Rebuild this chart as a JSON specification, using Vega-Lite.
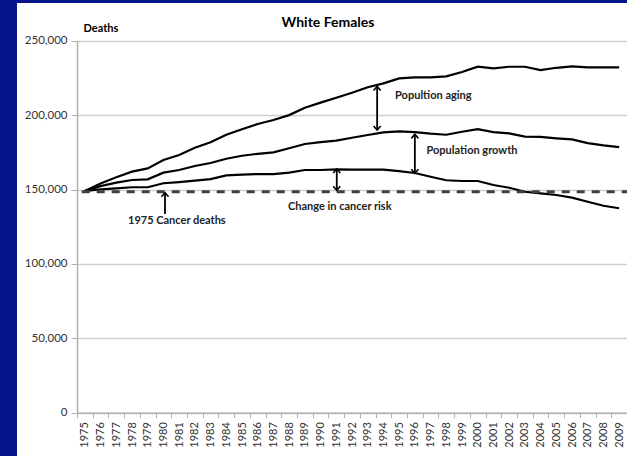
{
  "$schema": "https://vega.github.io/schema/vega-lite/v6.json",
  "autosize": "none",
  "width": 610,
  "height": 453,
  "padding": {"left": 17, "top": 3, "right": 0, "bottom": 0},
  "background": "#06168a",
  "config": {"view": {"fill": "white", "stroke": null}, "font": "Lato"},
  "title": {"text": "White Females", "font": "Lato", "fontSize": 14, "fontWeight": "bold", "color": "black", "anchor": "middle", "baseline": "alphabetic", "offset": -38, "dx": 6},
  "datasets": {
    "deaths": [
      {"year": 1975, "aging": 149000, "growth": 149000, "risk": 149000},
      {"year": 1976, "aging": 154000, "growth": 152300, "risk": 150100},
      {"year": 1977, "aging": 158200, "growth": 154600, "risk": 150800},
      {"year": 1978, "aging": 162000, "growth": 156400, "risk": 151500},
      {"year": 1979, "aging": 164200, "growth": 156800, "risk": 151500},
      {"year": 1980, "aging": 169800, "growth": 161300, "risk": 154200},
      {"year": 1981, "aging": 173200, "growth": 163100, "risk": 155000},
      {"year": 1982, "aging": 178000, "growth": 165800, "risk": 155900},
      {"year": 1983, "aging": 181700, "growth": 167800, "risk": 157000},
      {"year": 1984, "aging": 186800, "growth": 170700, "risk": 159500},
      {"year": 1985, "aging": 190500, "growth": 172700, "risk": 160000},
      {"year": 1986, "aging": 194000, "growth": 174000, "risk": 160400},
      {"year": 1987, "aging": 196700, "growth": 175000, "risk": 160400},
      {"year": 1988, "aging": 200000, "growth": 177700, "risk": 161300},
      {"year": 1989, "aging": 205000, "growth": 180600, "risk": 163100},
      {"year": 1990, "aging": 208400, "growth": 181800, "risk": 163100},
      {"year": 1991, "aging": 211700, "growth": 182800, "risk": 163500},
      {"year": 1992, "aging": 215000, "growth": 184800, "risk": 163300},
      {"year": 1993, "aging": 218700, "growth": 186600, "risk": 163300},
      {"year": 1994, "aging": 221300, "growth": 188400, "risk": 163300},
      {"year": 1995, "aging": 224700, "growth": 189100, "risk": 162400},
      {"year": 1996, "aging": 225400, "growth": 188600, "risk": 161100},
      {"year": 1997, "aging": 225400, "growth": 187500, "risk": 158600},
      {"year": 1998, "aging": 226000, "growth": 186800, "risk": 156200},
      {"year": 1999, "aging": 229000, "growth": 188800, "risk": 155700},
      {"year": 2000, "aging": 232500, "growth": 190600, "risk": 155700},
      {"year": 2001, "aging": 231400, "growth": 188600, "risk": 153000},
      {"year": 2002, "aging": 232500, "growth": 187700, "risk": 151200},
      {"year": 2003, "aging": 232500, "growth": 185500, "risk": 148500},
      {"year": 2004, "aging": 230300, "growth": 185300, "risk": 147400},
      {"year": 2005, "aging": 231800, "growth": 184400, "risk": 146300},
      {"year": 2006, "aging": 232800, "growth": 183700, "risk": 144500},
      {"year": 2007, "aging": 232100, "growth": 181200, "risk": 141800},
      {"year": 2008, "aging": 232100, "growth": 179700, "risk": 139100},
      {"year": 2009, "aging": 232100, "growth": 178500, "risk": 137400}
    ],
    "arrows": [
      {"x": 1993.6, "top": 219300, "bot": 190000, "double": true},
      {"x": 1996.0, "top": 187100, "bot": 160900, "double": true},
      {"x": 1991.03, "top": 163800, "bot": 149500, "double": true},
      {"x": 1980.1, "top": 147800, "bot": 133500, "double": false}
    ],
    "notes": [
      {"x": 1994.74, "y": 212800, "label": "Popultion aging"},
      {"x": 1996.74, "y": 176000, "label": "Population growth"},
      {"x": 1987.93, "y": 138400, "label": "Change in cancer risk"},
      {"x": 1977.75, "y": 128800, "label": "1975 Cancer deaths"}
    ]
  },
  "layer": [
    {
      "data": {"name": "deaths"},
      "transform": [{"fold": ["aging", "growth", "risk"], "as": ["series", "deaths"]}],
      "mark": {"type": "line", "color": "black", "strokeWidth": 2.2},
      "encoding": {
        "x": {"field": "year", "type": "quantitative",
          "scale": {"domain": [1974.5, 2009.5], "range": [60, 610], "nice": false, "zero": false},
          "axis": {"values": [1975,1976,1977,1978,1979,1980,1981,1982,1983,1984,1985,1986,1987,1988,1989,1990,1991,1992,1993,1994,1995,1996,1997,1998,1999,2000,2001,2002,2003,2004,2005,2006,2007,2008,2009], "format": "d", "labelAngle": -90, "labelFont": "Lato", "labelFontSize": 11, "labelColor": "#333333", "labelOverlap": false, "labelFlush": false, "labelPadding": 4, "tickOffset": -7.857, "labelOffset": 7.857, "tickSize": 5, "tickColor": "#b0b0b0", "tickWidth": 1, "domainColor": "#b0b0b0", "domainWidth": 1.5, "grid": false, "title": null, "offset": -43.3}},
        "y": {"field": "deaths", "type": "quantitative",
          "scale": {"domain": [0, 250000], "range": [409.7, 37.7], "nice": false, "zero": true},
          "axis": {"values": [0, 50000, 100000, 150000, 200000, 250000], "format": ",.0f", "labelFont": "Lato", "labelFontSize": 11.5, "labelColor": "#333333", "labelPadding": 4, "tickSize": 6, "tickColor": "#b0b0b0", "domainColor": "#b0b0b0", "domainWidth": 1.5, "grid": true, "gridColor": "#cfcfcf", "gridWidth": 1.5, "offset": -60, "title": "Deaths", "titleAngle": 0, "titleFont": "Lato", "titleFontSize": 11, "titleFontWeight": "bold", "titleColor": "black", "titleX": 6, "titleY": 28, "titleAlign": "left", "titleBaseline": "alphabetic"}},
        "detail": {"field": "series"}
      }
    },
    {
      "data": {"values": [{"start": 1974.8, "end": 2009.5, "deaths": 148500}]},
      "mark": {"type": "rule", "color": "#404040", "strokeWidth": 2.8, "strokeDash": [8, 7]},
      "encoding": {
        "x": {"field": "start", "type": "quantitative",
          "scale": {"domain": [1974.5, 2009.5], "range": [60, 610], "nice": false, "zero": false},
          "axis": {"values": [1975,1976,1977,1978,1979,1980,1981,1982,1983,1984,1985,1986,1987,1988,1989,1990,1991,1992,1993,1994,1995,1996,1997,1998,1999,2000,2001,2002,2003,2004,2005,2006,2007,2008,2009], "format": "d", "labelAngle": -90, "labelFont": "Lato", "labelFontSize": 11, "labelColor": "#333333", "labelOverlap": false, "labelFlush": false, "labelPadding": 4, "tickOffset": -7.857, "labelOffset": 7.857, "tickSize": 5, "tickColor": "#b0b0b0", "tickWidth": 1, "domainColor": "#b0b0b0", "domainWidth": 1.5, "grid": false, "title": null, "offset": -43.3}},
        "x2": {"field": "end"},
        "y": {"field": "deaths", "type": "quantitative",
          "scale": {"domain": [0, 250000], "range": [409.7, 37.7], "nice": false, "zero": true},
          "axis": {"values": [0, 50000, 100000, 150000, 200000, 250000], "format": ",.0f", "labelFont": "Lato", "labelFontSize": 11.5, "labelColor": "#333333", "labelPadding": 4, "tickSize": 6, "tickColor": "#b0b0b0", "domainColor": "#b0b0b0", "domainWidth": 1.5, "grid": true, "gridColor": "#cfcfcf", "gridWidth": 1.5, "offset": -60, "title": "Deaths", "titleAngle": 0, "titleFont": "Lato", "titleFontSize": 11, "titleFontWeight": "bold", "titleColor": "black", "titleX": 6, "titleY": 28, "titleAlign": "left", "titleBaseline": "alphabetic"}}
      }
    },
    {
      "data": {"name": "arrows"},
      "mark": {"type": "rule", "color": "black", "strokeWidth": 1.8},
      "encoding": {
        "x": {"field": "x", "type": "quantitative",
          "scale": {"domain": [1974.5, 2009.5], "range": [60, 610], "nice": false, "zero": false},
          "axis": {"values": [1975,1976,1977,1978,1979,1980,1981,1982,1983,1984,1985,1986,1987,1988,1989,1990,1991,1992,1993,1994,1995,1996,1997,1998,1999,2000,2001,2002,2003,2004,2005,2006,2007,2008,2009], "format": "d", "labelAngle": -90, "labelFont": "Lato", "labelFontSize": 11, "labelColor": "#333333", "labelOverlap": false, "labelFlush": false, "labelPadding": 4, "tickOffset": -7.857, "labelOffset": 7.857, "tickSize": 5, "tickColor": "#b0b0b0", "tickWidth": 1, "domainColor": "#b0b0b0", "domainWidth": 1.5, "grid": false, "title": null, "offset": -43.3}},
        "y": {"field": "top", "type": "quantitative",
          "scale": {"domain": [0, 250000], "range": [409.7, 37.7], "nice": false, "zero": true},
          "axis": {"values": [0, 50000, 100000, 150000, 200000, 250000], "format": ",.0f", "labelFont": "Lato", "labelFontSize": 11.5, "labelColor": "#333333", "labelPadding": 4, "tickSize": 6, "tickColor": "#b0b0b0", "domainColor": "#b0b0b0", "domainWidth": 1.5, "grid": true, "gridColor": "#cfcfcf", "gridWidth": 1.5, "offset": -60, "title": "Deaths", "titleAngle": 0, "titleFont": "Lato", "titleFontSize": 11, "titleFontWeight": "bold", "titleColor": "black", "titleX": 6, "titleY": 28, "titleAlign": "left", "titleBaseline": "alphabetic"}},
        "y2": {"field": "bot"}
      }
    },
    {
      "data": {"name": "arrows"},
      "mark": {"type": "point", "shape": "M-1,1.15L0,0L1,1.15", "filled": false, "stroke": "black", "strokeWidth": 1.6, "size": 50, "opacity": 1},
      "encoding": {
        "x": {"field": "x", "type": "quantitative",
          "scale": {"domain": [1974.5, 2009.5], "range": [60, 610], "nice": false, "zero": false},
          "axis": {"values": [1975,1976,1977,1978,1979,1980,1981,1982,1983,1984,1985,1986,1987,1988,1989,1990,1991,1992,1993,1994,1995,1996,1997,1998,1999,2000,2001,2002,2003,2004,2005,2006,2007,2008,2009], "format": "d", "labelAngle": -90, "labelFont": "Lato", "labelFontSize": 11, "labelColor": "#333333", "labelOverlap": false, "labelFlush": false, "labelPadding": 4, "tickOffset": -7.857, "labelOffset": 7.857, "tickSize": 5, "tickColor": "#b0b0b0", "tickWidth": 1, "domainColor": "#b0b0b0", "domainWidth": 1.5, "grid": false, "title": null, "offset": -43.3}},
        "y": {"field": "top", "type": "quantitative",
          "scale": {"domain": [0, 250000], "range": [409.7, 37.7], "nice": false, "zero": true},
          "axis": {"values": [0, 50000, 100000, 150000, 200000, 250000], "format": ",.0f", "labelFont": "Lato", "labelFontSize": 11.5, "labelColor": "#333333", "labelPadding": 4, "tickSize": 6, "tickColor": "#b0b0b0", "domainColor": "#b0b0b0", "domainWidth": 1.5, "grid": true, "gridColor": "#cfcfcf", "gridWidth": 1.5, "offset": -60, "title": "Deaths", "titleAngle": 0, "titleFont": "Lato", "titleFontSize": 11, "titleFontWeight": "bold", "titleColor": "black", "titleX": 6, "titleY": 28, "titleAlign": "left", "titleBaseline": "alphabetic"}}
      }
    },
    {
      "data": {"name": "arrows"},
      "transform": [{"filter": "datum.double"}],
      "mark": {"type": "point", "shape": "M-1,-1.15L0,0L1,-1.15", "filled": false, "stroke": "black", "strokeWidth": 1.6, "size": 50, "opacity": 1},
      "encoding": {
        "x": {"field": "x", "type": "quantitative",
          "scale": {"domain": [1974.5, 2009.5], "range": [60, 610], "nice": false, "zero": false},
          "axis": {"values": [1975,1976,1977,1978,1979,1980,1981,1982,1983,1984,1985,1986,1987,1988,1989,1990,1991,1992,1993,1994,1995,1996,1997,1998,1999,2000,2001,2002,2003,2004,2005,2006,2007,2008,2009], "format": "d", "labelAngle": -90, "labelFont": "Lato", "labelFontSize": 11, "labelColor": "#333333", "labelOverlap": false, "labelFlush": false, "labelPadding": 4, "tickOffset": -7.857, "labelOffset": 7.857, "tickSize": 5, "tickColor": "#b0b0b0", "tickWidth": 1, "domainColor": "#b0b0b0", "domainWidth": 1.5, "grid": false, "title": null, "offset": -43.3}},
        "y": {"field": "bot", "type": "quantitative",
          "scale": {"domain": [0, 250000], "range": [409.7, 37.7], "nice": false, "zero": true},
          "axis": {"values": [0, 50000, 100000, 150000, 200000, 250000], "format": ",.0f", "labelFont": "Lato", "labelFontSize": 11.5, "labelColor": "#333333", "labelPadding": 4, "tickSize": 6, "tickColor": "#b0b0b0", "domainColor": "#b0b0b0", "domainWidth": 1.5, "grid": true, "gridColor": "#cfcfcf", "gridWidth": 1.5, "offset": -60, "title": "Deaths", "titleAngle": 0, "titleFont": "Lato", "titleFontSize": 11, "titleFontWeight": "bold", "titleColor": "black", "titleX": 6, "titleY": 28, "titleAlign": "left", "titleBaseline": "alphabetic"}}
      }
    },
    {
      "data": {"name": "notes"},
      "mark": {"type": "text", "align": "left", "baseline": "middle", "font": "Lato", "fontSize": 11, "fontWeight": "bold", "color": "#222222"},
      "encoding": {
        "x": {"field": "x", "type": "quantitative",
          "scale": {"domain": [1974.5, 2009.5], "range": [60, 610], "nice": false, "zero": false},
          "axis": {"values": [1975,1976,1977,1978,1979,1980,1981,1982,1983,1984,1985,1986,1987,1988,1989,1990,1991,1992,1993,1994,1995,1996,1997,1998,1999,2000,2001,2002,2003,2004,2005,2006,2007,2008,2009], "format": "d", "labelAngle": -90, "labelFont": "Lato", "labelFontSize": 11, "labelColor": "#333333", "labelOverlap": false, "labelFlush": false, "labelPadding": 4, "tickOffset": -7.857, "labelOffset": 7.857, "tickSize": 5, "tickColor": "#b0b0b0", "tickWidth": 1, "domainColor": "#b0b0b0", "domainWidth": 1.5, "grid": false, "title": null, "offset": -43.3}},
        "y": {"field": "y", "type": "quantitative",
          "scale": {"domain": [0, 250000], "range": [409.7, 37.7], "nice": false, "zero": true},
          "axis": {"values": [0, 50000, 100000, 150000, 200000, 250000], "format": ",.0f", "labelFont": "Lato", "labelFontSize": 11.5, "labelColor": "#333333", "labelPadding": 4, "tickSize": 6, "tickColor": "#b0b0b0", "domainColor": "#b0b0b0", "domainWidth": 1.5, "grid": true, "gridColor": "#cfcfcf", "gridWidth": 1.5, "offset": -60, "title": "Deaths", "titleAngle": 0, "titleFont": "Lato", "titleFontSize": 11, "titleFontWeight": "bold", "titleColor": "black", "titleX": 6, "titleY": 28, "titleAlign": "left", "titleBaseline": "alphabetic"}},
        "text": {"field": "label"}
      }
    }
  ]
}
